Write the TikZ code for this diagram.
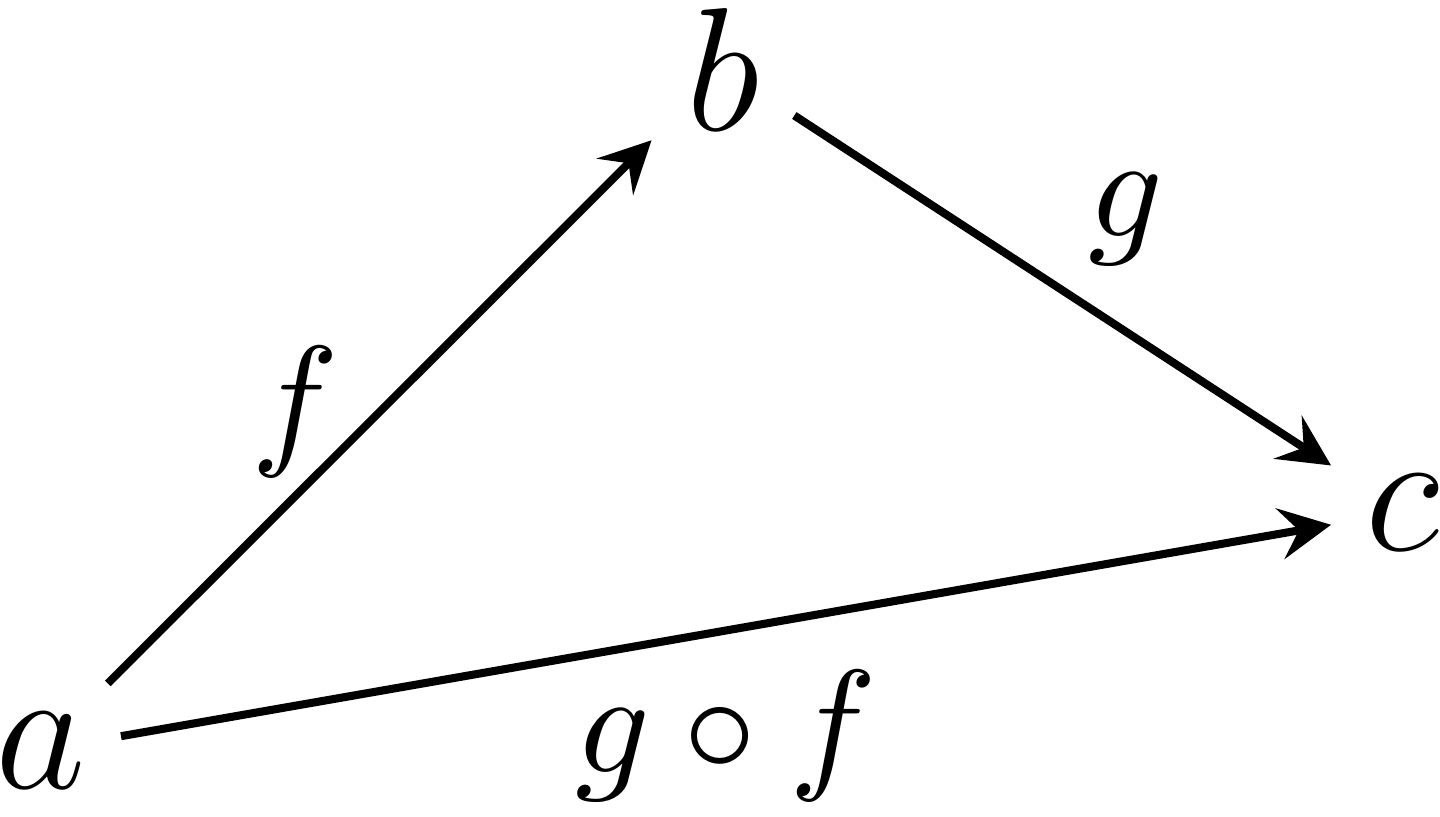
\documentclass[tikz,border=0pt]{standalone}
\usepackage{amsmath}
\usepackage{amssymb}
\begin{document}
\begin{tikzpicture}[>=stealth, line width=0.55pt,
    obj/.style={font=\large, inner xsep=2.1pt, inner ysep=1.7pt, anchor=base},
    lbl/.style={inner sep=2.5pt}]
\useasboundingbox (0,0) rectangle (3.455,1.958);
\node[obj] (a) at (0.0984,0.0672) {$a$};
\node[obj] (b) at (1.7346,1.6459) {$b$};
\node[obj] (c) at (3.366,0.638) {$c$};
\draw[->] (a) -- (b) node[lbl, midway, left] (f) {$f$};
\draw[->] (b) -- (c) node[lbl, inner sep=1.5pt, midway, above right] (g) {$g$};
\draw[->] (a) -- (c) node[lbl, midway, below] (gf) {$g \circ f$};
\end{tikzpicture}
\end{document}
